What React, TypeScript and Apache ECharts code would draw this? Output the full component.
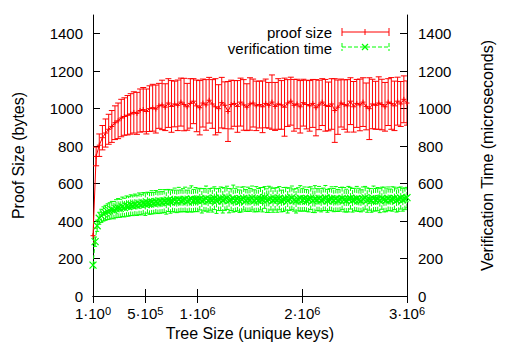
import React, { useEffect, useRef } from "react";
import * as echarts from "echarts";

// x tick positions and labels
const xTickValues = [1, 500000, 1000000, 2000000, 3000000];
const xTickMantissa = ["1", "5", "1", "2", "3"];
const xTickExponent = ["0", "5", "6", "6", "6"];

// proof size (bytes): x step 30000, first x = 1
const proofStep = 30000;
const proofMean = [
  322, 745, 805, 845, 870, 890, 905, 925, 935, 950,
  958, 965, 972, 980, 975, 990, 995, 985, 1000, 1005,
  998, 1015, 1020, 1008, 1030, 1012, 1025, 1018, 1035, 1022,
  1010, 1028, 1040, 1015, 1005, 1030, 1020, 1045, 1025, 1010,
  1000, 1032, 1018, 985, 1022, 1028, 1012, 1035, 1020, 1008,
  1025, 1030, 1015, 1022, 1010, 1028, 1018, 1035, 1012, 1025,
  1020, 1008, 1030, 1040, 1018, 1025, 1010, 1032, 1022, 1015,
  1028, 1005, 1020, 1035, 1018, 1012, 1025, 990, 1008, 1030,
  1022, 1015, 1040, 1010, 1028, 1020, 1035, 1012, 1000, 1025,
  1018, 1030, 1022, 1010, 1035, 1028, 1015, 1040, 1025, 1050,
  1030,
];
const proofErr = [
  40, 50, 60, 65, 75, 80, 85, 90, 95, 100,
  100, 105, 108, 110, 112, 115, 118, 120, 122, 125,
  128, 120, 132, 125, 130, 138, 122, 135, 128, 140,
  125, 132, 120, 138, 145, 128, 135, 122, 130, 150,
  128, 135, 125, 160, 130, 122, 138, 128, 135, 125,
  140, 128, 132, 125, 138, 130, 122, 145, 128, 135,
  130, 155, 125, 128, 138, 132, 140, 125, 130, 135,
  128, 150, 132, 125, 138, 130, 135, 170, 145, 128,
  132, 140, 125, 135, 128, 138, 130, 125, 165, 132,
  128, 140, 135, 130, 125, 138, 132, 128, 120, 125,
  118,
];

// verification time (microseconds): x step 20000, first x = 1
const verifStep = 20000;
const verifMean = [
  165, 290, 375, 415, 428, 438, 444, 450, 454, 460,
  458, 466, 470, 468, 476, 472, 480, 478, 485, 482,
  488, 484, 492, 488, 495, 490, 498, 494, 500, 496,
  503, 498, 505, 500, 507, 502, 510, 504, 508, 512,
  505, 514, 508, 511, 516, 506, 513, 518, 509, 515,
  511, 517, 508, 514, 520, 510, 516, 512, 522, 507,
  515, 519, 511, 517, 524, 509, 514, 520, 512, 518,
  506, 515, 521, 510, 516, 513, 523, 508, 517, 512,
  519, 514, 526, 509, 516, 520, 511, 518, 513, 522,
  507, 515, 519, 510, 517, 524, 512, 508, 516, 521,
  513, 518, 510, 515, 522, 509, 517, 514, 520, 511,
  516, 523, 508, 515, 519, 512, 518, 510, 516, 521,
  514, 509, 517, 522, 511, 515, 519, 513, 508, 518,
  524, 512, 516, 510, 520, 514, 517, 509, 522, 515,
  511, 519, 513, 518, 521, 510, 516, 523, 514, 519,
  525,
];
const verifErr = [
  15, 25, 30, 32, 35, 38, 40, 42, 44, 45,
  46, 48, 50, 48, 52, 50, 54, 52, 55, 53,
  56, 54, 58, 55, 57, 60, 56, 58, 62, 57,
  60, 58, 63, 57, 61, 65, 59, 62, 58, 64,
  60, 66, 58, 62, 65, 59, 63, 70, 60, 64,
  61, 58, 65, 60, 67, 62, 58, 64, 61, 66,
  59, 63, 68, 60, 62, 65, 58, 72, 61, 64,
  60, 66, 62, 58, 65, 61, 64, 59, 67, 62,
  60, 65, 58, 63, 70, 61, 64, 59, 66, 62,
  58, 64, 61, 67, 60, 63, 59, 65, 62, 68,
  60, 64, 58, 66, 61, 63, 72, 59, 65, 62,
  60, 67, 61, 58, 64, 62, 66, 59, 63, 60,
  65, 61, 68, 58, 63, 60, 66, 62, 59, 64,
  61, 65, 58, 63, 67, 60, 62, 64, 59, 66,
  61, 63, 58, 65, 60, 62, 64, 59, 61, 58,
  55,
];

const RED = "#ff0000";
const GREEN = "#00ff00";
const FONT = "Liberation Sans, Arial, sans-serif";
const TICK_FS = 15;
const TEXT_FS = 16;
const LEGEND_FS = 15;

function xAt(i: number, step: number) {
  return i === 0 ? 1 : i * step;
}

function makeErr(mean: number[], err: number[], step: number) {
  return mean.map((m, i) => [xAt(i, step), m, err[i]]);
}
function makeLine(mean: number[], step: number) {
  return mean.map((m, i) => [xAt(i, step), m]);
}

function errRender(color: string, hw: number, dash: number[] | null) {
  return (params: any, api: any) => {
    const x = api.value(0);
    const y = api.value(1);
    const d = api.value(2);
    const lo = api.coord([x, y - d]);
    const hi = api.coord([x, y + d]);
    const style: any = { stroke: color, lineWidth: 1, fill: "none" };
    if (dash) style.lineDash = dash;
    return {
      type: "group",
      children: [
        { type: "line", shape: { x1: lo[0], y1: lo[1], x2: hi[0], y2: hi[1] }, style },
        { type: "line", shape: { x1: lo[0] - hw, y1: lo[1], x2: lo[0] + hw, y2: lo[1] }, style },
        { type: "line", shape: { x1: hi[0] - hw, y1: hi[1], x2: hi[0] + hw, y2: hi[1] }, style },
      ],
    };
  };
}

export default function App() {
  const ref = useRef<HTMLDivElement>(null);
  useEffect(() => {
    if (!ref.current) return;
    const chart = echarts.init(ref.current, null, { renderer: "svg" });
    const tickStyle = { fontFamily: FONT, fontSize: TICK_FS, color: "#000" };
    const nameStyle = { fontFamily: FONT, fontSize: TEXT_FS, color: "#000" };
    const yAxisBase = {
      type: "value",
      min: 0,
      max: 1500,
      interval: 200,
      nameLocation: "middle",
      nameRotate: 90,
      nameTextStyle: { ...nameStyle },
      axisLine: { show: true, lineStyle: { color: "#000", width: 1 } },
      axisTick: { show: true, inside: true, length: 7, lineStyle: { color: "#000" } },
      axisLabel: {
        ...tickStyle,
        showMaxLabel: false,
        formatter: (v: number) => (v === 1500 ? "" : String(v)),
      },
      splitLine: { show: false },
    };
    const option: any = {
      animation: false,
      grid: { left: 93, right: 99, top: 15, bottom: 51 },
      xAxis: [
        {
          type: "value",
          min: 1,
          max: 3000000,
          position: "bottom",
          name: "Tree Size (unique keys)",
          nameLocation: "middle",
          nameGap: 27,
          nameTextStyle: { ...nameStyle },
          axisLine: { show: true, lineStyle: { color: "#000", width: 1 } },
          axisTick: {
            show: true,
            inside: true,
            length: 7,
            customValues: xTickValues,
            lineStyle: { color: "#000" },
          },
          axisLabel: {
            customValues: xTickValues,
            margin: 9,
            formatter: (v: number) => {
              const i = xTickValues.indexOf(v);
              if (i < 0) return "";
              return `{n|${xTickMantissa[i]}·10}{s|${xTickExponent[i]}}`;
            },
            rich: {
              n: { fontFamily: FONT, fontSize: TICK_FS, color: "#000", lineHeight: 17 },
              s: { fontFamily: FONT, fontSize: 11, color: "#000", lineHeight: 11, verticalAlign: "top" },
            },
          },
          splitLine: { show: false },
        },
        {
          type: "value",
          min: 1,
          max: 3000000,
          position: "top",
          axisLine: { show: true, lineStyle: { color: "#000", width: 1 } },
          axisTick: {
            show: true,
            inside: true,
            length: 7,
            customValues: xTickValues,
            lineStyle: { color: "#000" },
          },
          axisLabel: { show: false },
          splitLine: { show: false },
        },
      ],
      yAxis: [
        { ...yAxisBase, position: "left", name: "Proof Size (bytes)", nameGap: 67, axisLabel: { ...yAxisBase.axisLabel, margin: 10 } },
        {
          ...yAxisBase,
          position: "right",
          name: "Verification Time (microseconds)",
          nameGap: 72,
          axisLabel: { ...yAxisBase.axisLabel, margin: 11 },
        },
      ],
      series: [
        {
          type: "custom",
          xAxisIndex: 0,
          yAxisIndex: 0,
          renderItem: errRender(RED, 3, null),
          encode: { x: 0, y: 1 },
          data: makeErr(proofMean, proofErr, proofStep),
          clip: true,
          z: 2,
        },
        {
          type: "line",
          xAxisIndex: 0,
          yAxisIndex: 0,
          data: makeLine(proofMean, proofStep),
          symbol: "path://M5,0L5,10M0,5L10,5",
          symbolSize: 5,
          showSymbol: true,
          itemStyle: { color: "transparent", borderColor: RED, borderWidth: 1 },
          lineStyle: { color: RED, width: 1 },
          z: 3,
        },
        {
          type: "custom",
          xAxisIndex: 0,
          yAxisIndex: 1,
          renderItem: errRender(GREEN, 2, [4, 2]),
          encode: { x: 0, y: 1 },
          data: makeErr(verifMean, verifErr, verifStep),
          clip: true,
          z: 2,
        },
        {
          type: "line",
          xAxisIndex: 0,
          yAxisIndex: 1,
          data: makeLine(verifMean, verifStep),
          symbol: "path://M0,0L10,10M10,0L0,10",
          symbolSize: 7,
          showSymbol: true,
          itemStyle: { color: "transparent", borderColor: GREEN, borderWidth: 1.2 },
          lineStyle: { color: GREEN, width: 1, type: [4, 2] },
          z: 3,
        },
      ],
      graphic: [
        {
          type: "text",
          x: 332,
          y: 32,
          style: {
            text: "proof size",
            fontFamily: FONT,
            fontSize: LEGEND_FS,
            lineHeight: 15,
            fill: "#000",
            align: "right",
            verticalAlign: "middle",
          },
        },
        { type: "line", shape: { x1: 342, y1: 32, x2: 389, y2: 32 }, style: { stroke: RED, lineWidth: 1 } },
        { type: "line", shape: { x1: 342, y1: 28, x2: 342, y2: 36 }, style: { stroke: RED, lineWidth: 1 } },
        { type: "line", shape: { x1: 389, y1: 28, x2: 389, y2: 36 }, style: { stroke: RED, lineWidth: 1 } },
        { type: "line", shape: { x1: 365, y1: 29, x2: 365, y2: 35 }, style: { stroke: RED, lineWidth: 1 } },
        {
          type: "text",
          x: 332,
          y: 48,
          style: {
            text: "verification time",
            fontFamily: FONT,
            fontSize: LEGEND_FS,
            lineHeight: 15,
            fill: "#000",
            align: "right",
            verticalAlign: "middle",
          },
        },
        { type: "line", shape: { x1: 342, y1: 47, x2: 389, y2: 47 }, style: { stroke: GREEN, lineWidth: 1, lineDash: [4, 2] } },
        { type: "line", shape: { x1: 342, y1: 43, x2: 342, y2: 51 }, style: { stroke: GREEN, lineWidth: 1, lineDash: [4, 2] } },
        { type: "line", shape: { x1: 389, y1: 43, x2: 389, y2: 51 }, style: { stroke: GREEN, lineWidth: 1, lineDash: [4, 2] } },
        { type: "line", shape: { x1: 362, y1: 44, x2: 368, y2: 50 }, style: { stroke: GREEN, lineWidth: 1.2 } },
        { type: "line", shape: { x1: 368, y1: 44, x2: 362, y2: 50 }, style: { stroke: GREEN, lineWidth: 1.2 } },
      ],
    };
    chart.setOption(option);
    return () => chart.dispose();
  }, []);
  return <div ref={ref} style={{ width: 506, height: 347, position: "absolute", left: 0, top: 0 }} />;
}
